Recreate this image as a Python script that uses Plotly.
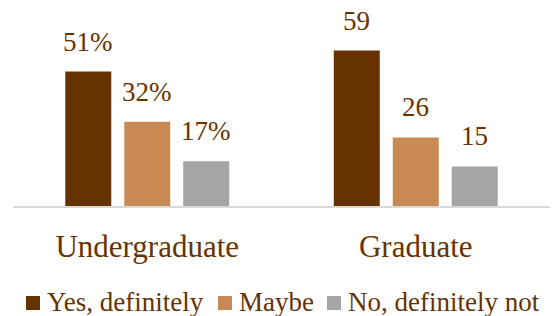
import plotly.graph_objects as go

categories = ["Undergraduate", "Graduate"]
series_names = ["Yes, definitely", "Maybe", "No, definitely not"]
yes_values = [51, 59]
maybe_values = [32, 26]
no_values = [17, 15]
label_texts = [["51%", "59"], ["32%", "26"], ["17%", "15"]]

colors = ["#663300", "#C88A52", "#A5A5A5"]
text_color = "#663300"
FONT = "Liberation Serif, Times New Roman, Times, DejaVu Serif, serif"

W, H = 556, 316
ML, MR, MT, MB = 13, 6, 11, 110
BARGAP = 0.341
BARGROUPGAP = 0.22

fig = go.Figure()
all_values = [yes_values, maybe_values, no_values]
for name, vals, col in zip(series_names, all_values, colors):
    fig.add_trace(go.Bar(
        x=categories, y=vals, name=name,
        marker=dict(color=col, line=dict(width=0)),
        hoverinfo="skip", showlegend=False,
    ))

# data labels above bars, placed through the axes
slot = (1 - BARGAP) / 3
annotations = []
for i, (vals, texts) in enumerate(zip(all_values, label_texts)):
    for ci, (v, t) in enumerate(zip(vals, texts)):
        annotations.append(dict(
            x=ci + (i - 1) * slot, y=v, xref="x", yref="y",
            text=t, showarrow=False, yanchor="bottom", yshift=13,
            font=dict(family=FONT, size=27, color=text_color),
        ))

# custom legend (pixel layout converted to paper coordinates)
pw, ph = W - ML - MR, H - MT - MB
def px_x(p):
    return (p - ML) / pw
def px_y(p):
    return (H - MB - p) / ph

legend_square_left = [26, 218, 327]
legend_text_left = [45, 237, 346]
sq, legend_cy = 14, 303
shapes = []
for name, col, sx, tx in zip(series_names, colors, legend_square_left, legend_text_left):
    shapes.append(dict(type="rect", xref="paper", yref="paper",
                       x0=px_x(sx), x1=px_x(sx + sq),
                       y0=px_y(legend_cy + sq / 2), y1=px_y(legend_cy - sq / 2),
                       fillcolor=col, line=dict(width=0)))
    annotations.append(dict(x=px_x(tx), y=px_y(legend_cy - 1), xref="paper", yref="paper",
                            xanchor="left", yanchor="middle", showarrow=False,
                            text=name, font=dict(family=FONT, size=27, color=text_color)))

fig.update_layout(
    width=W, height=H,
    margin=dict(l=ML, r=MR, t=MT, b=MB, autoexpand=False),
    paper_bgcolor="white", plot_bgcolor="white",
    barmode="group", bargap=BARGAP, bargroupgap=BARGROUPGAP,
    font=dict(family=FONT, color=text_color),
    showlegend=False,
    annotations=annotations,
    shapes=shapes,
    xaxis=dict(
        showline=True, linecolor="#D9D9D9", linewidth=2,
        showgrid=False, ticks="", ticklabelstandoff=12,
        tickfont=dict(family=FONT, size=31, color=text_color),
    ),
    yaxis=dict(range=[0, 74], visible=False, showgrid=False),
)

fig.write_html("out.html", config={"displayModeBar": False},
               post_script="document.body.style.margin='0';document.body.style.padding='0';")
